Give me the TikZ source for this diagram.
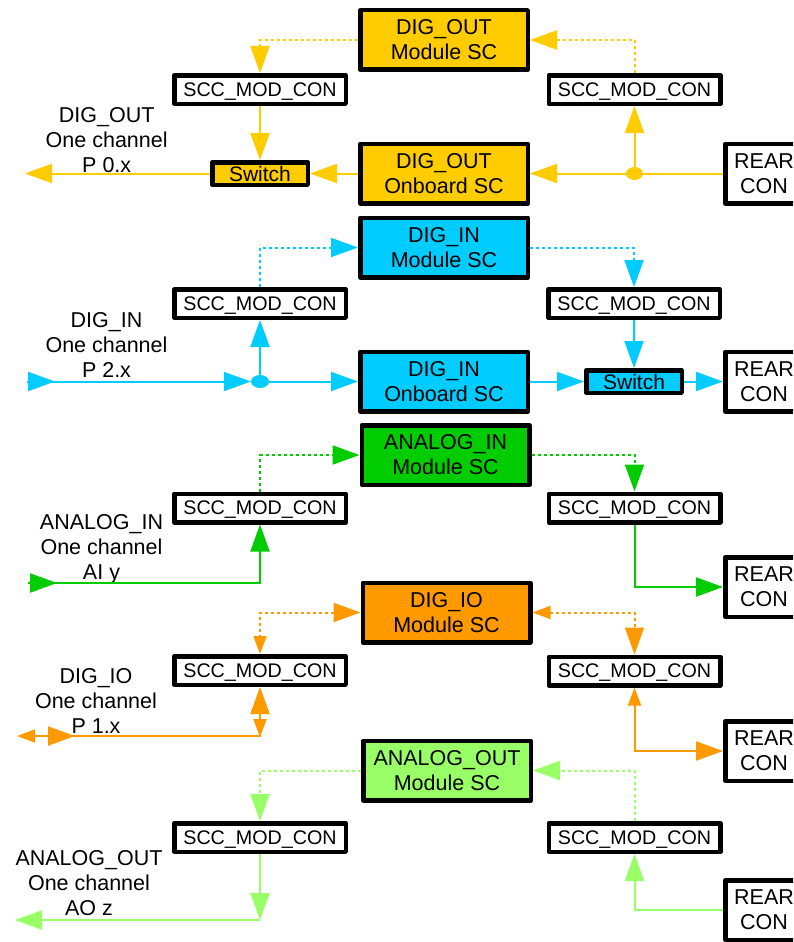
\documentclass[tikz,border=0pt]{standalone}
\usepackage{fontspec}
\setmainfont{Liberation Sans}
\usetikzlibrary{arrows.meta,shapes.geometric}
\definecolor{cY}{HTML}{FFCC00}
\definecolor{cC}{HTML}{00CCFF}
\definecolor{cG}{HTML}{00CC00}
\definecolor{cO}{HTML}{FF9900}
\definecolor{cL}{HTML}{99FF66}
\tikzset{
  bigT/.tip={Triangle[length=27pt,width=19pt]},
  smT/.tip={Triangle[length=18pt,width=13pt]},
  boxbase/.style={draw=black, line width=4.5pt, line join=round, inner sep=0pt, align=center, text=black},
  modbox/.style={boxbase, minimum width=167.5pt, minimum height=59.5pt, font=\fontsize{21.5}{25}\selectfont},
  sccbox/.style={boxbase, fill=white, minimum width=171.5pt, minimum height=28.5pt, text depth=0pt, font=\fontsize{19.7}{23}\selectfont},
  rearbox/.style={boxbase, fill=white, minimum width=77.5pt, minimum height=59.5pt, font=\fontsize{21.5}{25}\selectfont},
  swbox/.style={boxbase, minimum width=95.5pt, minimum height=22.5pt, text depth=0pt, font=\fontsize{21}{25}\selectfont},
  lbl/.style={align=center, inner sep=0pt, font=\fontsize{21.5}{25}\selectfont},
  wire/.style={line width=2pt},
  dots/.style={line width=2pt, dash pattern=on 3pt off 3pt},
  jdot/.style={ellipse, inner sep=0pt, minimum width=17pt, minimum height=13pt},
}
\begin{document}
\begin{tikzpicture}[x=1pt,y=-1pt]
\useasboundingbox (0,0) rectangle (793,942);
\clip (0,0) rectangle (793,942);
\fill[white] (0,0) rectangle (793,942);

% ---------- Row 1: DIG_OUT ----------
\node[modbox, fill=cY] (m1) at (444,40) {DIG\_OUT\\Module SC};
\node[modbox, fill=cY] (o1) at (444,173.5) {DIG\_OUT\\Onboard SC};
\node[sccbox] (s1L) at (260,89.5) {SCC\_MOD\_CON};
\node[sccbox] (s1R) at (634.5,89.5) {SCC\_MOD\_CON};
\node[swbox, fill=cY] (sw1) at (260,173.5) {Switch};
\node[rearbox] (r1) at (764,173.5) {REAR\\CON};
\node[jdot, fill=cY] (j1) at (634.5,173.5) {};
\node[lbl] (l1) at (106.7,140) {DIG\_OUT\\One channel\\P 0.x};
\coordinate (out1) at (25,173.5);

\draw[dots, cY, -{bigT}] (m1.west) -| (s1L.north);
\draw[dots, cY, -{bigT}] (s1R.north) |- (m1.east);
\draw[wire, cY, -{bigT}] (s1L.south) -- (sw1.north);
\draw[wire, cY, -{bigT}] (o1.west) -- (sw1.east);
\draw[wire, cY, -{bigT}] (sw1.west) -- (out1);
\draw[wire, cY, -{bigT}] (r1.west) -- (o1.east);
\draw[wire, cY, -{bigT}] (j1.north) -- (s1R.south);

% ---------- Row 2: DIG_IN ----------
\node[modbox, fill=cC] (m2) at (444,247.5) {DIG\_IN\\Module SC};
\node[modbox, fill=cC] (o2) at (444,381.5) {DIG\_IN\\Onboard SC};
\node[sccbox] (s2L) at (260,303.5) {SCC\_MOD\_CON};
\node[sccbox] (s2R) at (634,303.5) {SCC\_MOD\_CON};
\node[swbox, fill=cC] (sw2) at (634,381.5) {Switch};
\node[rearbox] (r2) at (764,381.5) {REAR\\CON};
\node[jdot, fill=cC, minimum width=18pt] (j2) at (260,381.5) {};
\node[lbl] (l2) at (106.5,345) {DIG\_IN\\One channel\\P 2.x};
\coordinate (in2) at (27,381.5);
\coordinate (in2b) at (55,381.5);

\draw[dots, cC, -{bigT}] (s2L.north) |- (m2.west);
\draw[dots, cC, -{bigT}] (m2.east) -| (s2R.north);
\draw[wire, cC, -{bigT}] (s2R.south) -- (sw2.north);
\draw[wire, cC, -{bigT}] (o2.east) -- (sw2.west);
\draw[wire, cC, -{bigT}] (sw2.east) -- (r2.west);
\draw[wire, cC, -{bigT}] (in2) -- (j2.west);
\draw[wire, cC, -{bigT}] (in2) -- (in2b);
\draw[wire, cC, -{bigT}] (j2.east) -- (o2.west);
\draw[wire, cC, -{bigT}] (j2.north) -- (s2L.south);

% ---------- Row 3: ANALOG_IN ----------
\node[modbox, fill=cG] (m3) at (445.5,455) {ANALOG\_IN\\Module SC};
\node[sccbox] (s3L) at (260,508) {SCC\_MOD\_CON};
\node[sccbox] (s3R) at (634.5,508) {SCC\_MOD\_CON};
\node[rearbox] (r3) at (764,587) {REAR\\CON};
\node[lbl] (l3) at (101.5,549) {ANALOG\_IN\\One channel\\AI y};
\coordinate (in3) at (28,583);
\coordinate (in3b) at (57,583);

\draw[dots, cG, -{bigT}] (s3L.north) |- (m3.west);
\draw[dots, cG, -{bigT}] (m3.east) -| (s3R.north);
\draw[wire, cG, -{bigT}] (s3R.south) |- (r3.west);
\draw[wire, cG, -{bigT}] (in3) -| (s3L.south);
\draw[wire, cG, -{bigT}] (in3) -- (in3b);

% ---------- Row 4: DIG_IO ----------
\node[modbox, fill=cO] (m4) at (446.5,612.5) {DIG\_IO\\Module SC};
\node[sccbox] (s4L) at (260,670.5) {SCC\_MOD\_CON};
\node[sccbox] (s4R) at (634.5,671) {SCC\_MOD\_CON};
\node[rearbox] (r4) at (764,751) {REAR\\CON};
\node[lbl] (l4) at (96,701) {DIG\_IO\\One channel\\P 1.x};
\coordinate (io4) at (17,736);
\coordinate (k4a) at (260,719);
\coordinate (k4b) at (260,737);
\coordinate (k4c) at (47,736);
\coordinate (k4d) at (75,736);

\draw[dots, cO, {bigT}-{smT}] (m4.west) -| (s4L.north);
\draw[dots, cO, {smT}-{bigT}] (m4.east) -| (s4R.north);
\draw[wire, cO, {smT}-{bigT}] (s4R.south) |- (r4.west);
\draw[wire, cO, {bigT}-{smT}] (s4L.south) |- (io4);
\draw[wire, cO, -{smT}] (k4a) -- (k4b);
\draw[wire, cO, -{bigT}] (k4c) -- (k4d);

% ---------- Row 5: ANALOG_OUT ----------
\node[modbox, fill=cL] (m5) at (447,770.5) {ANALOG\_OUT\\Module SC};
\node[sccbox] (s5L) at (260,837.5) {SCC\_MOD\_CON};
\node[sccbox] (s5R) at (634.5,837.5) {SCC\_MOD\_CON};
\node[rearbox] (r5) at (764,910) {REAR\\CON};
\node[lbl] (l5) at (89,883) {ANALOG\_OUT\\One channel\\AO z};
\coordinate (c5) at (260,920);
\coordinate (out5) at (15,920);

\draw[dots, cL, -{bigT}] (m5.west) -| (s5L.north);
\draw[dots, cL, -{bigT}] (s5R.north) |- (m5.east);
\draw[wire, cL, -{bigT}] (r5.west) -| (s5R.south);
\draw[wire, cL, -{bigT}] (s5L.south) -- (c5);
\draw[wire, cL, -{bigT}] (c5) -- (out5);
\end{tikzpicture}
\end{document}
